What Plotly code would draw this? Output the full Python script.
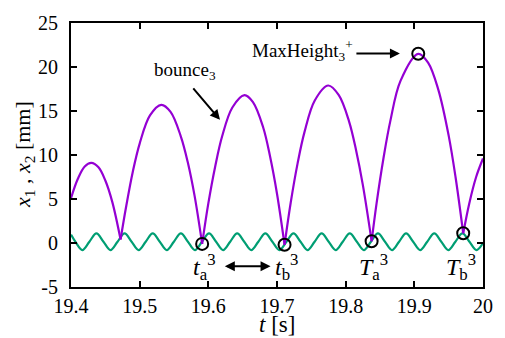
import plotly.graph_objects as go

# ---------------- data ----------------
# ball height x1 [mm], one list per flight arc (impact -> apex -> impact)
arc0_t = [19.400, 19.410, 19.420, 19.4295, 19.440, 19.450, 19.460, 19.4722]
arc0_v = [5.1, 7.3, 8.7, 9.1, 8.6, 7.1, 4.7, 0.4]
arc1_t = [19.4722, 19.480, 19.490, 19.500, 19.515, 19.5315, 19.545, 19.560, 19.570, 19.580, 19.591]
arc1_v = [0.4, 4.0, 8.1, 11.3, 14.5, 15.7, 14.9, 12.1, 9.2, 5.35, -0.1]
arc2_t = [19.591, 19.600, 19.610, 19.620, 19.635, 19.6526, 19.665, 19.680, 19.690, 19.700, 19.711]
arc2_v = [-0.1, 4.5, 8.7, 12.1, 15.4, 16.8, 16.0, 13.1, 9.8, 5.6, -0.2]
arc3_t = [19.711, 19.720, 19.730, 19.740, 19.755, 19.7746, 19.790, 19.805, 19.815, 19.825, 19.8378]
arc3_v = [-0.2, 4.6, 9.05, 12.6, 16.2, 17.9, 16.8, 13.8, 10.6, 6.6, 0.2]
arc4_t = [19.8378, 19.845, 19.855, 19.865, 19.880, 19.9057, 19.920, 19.935, 19.950, 19.960, 19.9712]
arc4_v = [0.2, 4.5, 9.6, 13.85, 18.45, 21.5, 20.5, 17.4, 12.2, 7.5, 1.1]
arc5_t = [19.9712, 19.980, 19.990, 20.000]
arc5_v = [1.1, 4.5, 7.5, 9.6]

# plate displacement x2 [mm]: crests, mid points and troughs
plate_t = [19.400, 19.4063, 19.4165, 19.4268, 19.437, 19.4473, 19.4575, 19.4678, 19.478,
           19.4883, 19.4985, 19.5088, 19.519, 19.5293, 19.5395, 19.5498, 19.560, 19.5703,
           19.5805, 19.5908, 19.601, 19.6113, 19.6215, 19.6318, 19.642, 19.6523, 19.6625,
           19.6728, 19.683, 19.6933, 19.7035, 19.7138, 19.724, 19.7343, 19.7445, 19.7548,
           19.765, 19.7753, 19.7855, 19.7958, 19.806, 19.8163, 19.8265, 19.8368, 19.847,
           19.8573, 19.8675, 19.8778, 19.888, 19.8983, 19.9085, 19.9188, 19.929, 19.9393,
           19.9495, 19.9598, 19.970, 19.9803, 19.9905, 20.000]
plate_v = [0.95, 0.15, -0.8, 0.15, 1.1, 0.15, -0.8, 0.15, 1.1,
           0.15, -0.8, 0.15, 1.1, 0.15, -0.8, 0.15, 1.1, 0.15,
           -0.8, 0.15, 1.1, 0.15, -0.8, 0.15, 1.1, 0.15, -0.8,
           0.15, 1.1, 0.15, -0.8, 0.15, 1.1, 0.15, -0.8, 0.15,
           1.1, 0.15, -0.8, 0.15, 1.1, 0.15, -0.8, 0.15, 1.1,
           0.15, -0.8, 0.15, 1.1, 0.15, -0.8, 0.15, 1.1, 0.15,
           -0.8, 0.15, 1.1, 0.15, -0.8, 0.0]

# marked events: t_a, t_b, T_a, T_b, MaxHeight
event_t = [19.591, 19.711, 19.8378, 19.9712, 19.9057]
event_v = [-0.1, -0.2, 0.2, 1.1, 21.5]

x_ticks = [19.4, 19.5, 19.6, 19.7, 19.8, 19.9, 20.0]
x_tick_labels = ["19.4", "19.5", "19.6", "19.7", "19.8", "19.9", "20"]
y_ticks = [-5, 0, 5, 10, 15, 20, 25]
y_tick_labels = ["-5", "0", "5", "10", "15", "20", "25"]

# ---------------- figure ----------------
PURPLE = "#9400D3"
GREEN = "#009E73"
FONT = "Liberation Serif, Times New Roman, DejaVu Serif, serif"

ball_t, ball_v = [], []
for ts, vs in [(arc0_t, arc0_v), (arc1_t, arc1_v), (arc2_t, arc2_v),
               (arc3_t, arc3_v), (arc4_t, arc4_v), (arc5_t, arc5_v)]:
    ball_t += ts + [None]
    ball_v += vs + [None]

fig = go.Figure()
fig.add_trace(go.Scatter(x=plate_t, y=plate_v, mode="lines",
                         line=dict(color=GREEN, width=2.2, shape="spline"),
                         hoverinfo="skip"))
fig.add_trace(go.Scatter(x=ball_t, y=ball_v, mode="lines", connectgaps=False,
                         line=dict(color=PURPLE, width=2.2, shape="spline"),
                         hoverinfo="skip"))
fig.add_trace(go.Scatter(x=event_t, y=event_v, mode="markers",
                         marker=dict(symbol="circle-open", size=12, color="black",
                                     line=dict(width=2, color="black")),
                         hoverinfo="skip"))

axis_common = dict(showgrid=False, zeroline=False, showline=True, linecolor="black",
                   linewidth=2, mirror="allticks", ticks="inside", ticklen=6,
                   tickwidth=2, tickcolor="black",
                   tickfont=dict(family=FONT, size=20, color="black"))

fig.update_xaxes(range=[19.4, 20.0], tickvals=x_ticks, ticktext=x_tick_labels,
                 **axis_common)
fig.update_yaxes(range=[-5, 25], tickvals=y_ticks, ticktext=y_tick_labels,
                 ticklabelstandoff=7, **axis_common)

title_font = dict(family=FONT, size=23, color="black")
lab_font = dict(family=FONT, size=24, color="black")
ann = [
    # axis titles
    dict(x=0.5, y=-0.142, xref="paper", yref="paper", xanchor="center", yanchor="middle",
         text="<i>t</i> [s]", showarrow=False, font=title_font),
    dict(x=-0.114, y=0.5, xref="paper", yref="paper", xanchor="center", yanchor="middle",
         textangle=-90, text="<i>x</i><sub>1</sub> , <i>x</i><sub>2</sub> [mm]",
         showarrow=False, font=dict(family=FONT, size=22, color="black")),
    # bounce_3 label + arrow
    dict(x=19.566, y=19.6, xref="x", yref="y", text="bounce<sub>3</sub>", showarrow=False,
         font=dict(family=FONT, size=19, color="black")),
    dict(x=19.617, y=14.0, xref="x", yref="y", text="", showarrow=True, arrowhead=2,
         arrowsize=1, arrowwidth=2, arrowcolor="black", ax=-28, ay=-33),
    # MaxHeight_3^+ label + arrow
    dict(x=19.8143, y=21.9, xref="x", yref="y", xanchor="right",
         text="MaxHeight<sub>3</sub><sup>+</sup>", showarrow=False,
         font=dict(family=FONT, size=19, color="black")),
    dict(x=19.879, y=21.54, xref="x", yref="y", text="", showarrow=True, arrowhead=2,
         arrowsize=1, arrowwidth=2, arrowcolor="black", ax=-45, ay=0),
    # event labels
    dict(x=19.594, y=-2.7, xref="x", yref="y", text="<i>t</i><sub>a</sub><sup>3</sup>",
         showarrow=False, font=lab_font),
    dict(x=19.714, y=-2.7, xref="x", yref="y", text="<i>t</i><sub>b</sub><sup>3</sup>",
         showarrow=False, font=lab_font),
    dict(x=19.840, y=-2.7, xref="x", yref="y", text="<i>T</i><sub>a</sub><sup>3</sup>",
         showarrow=False, font=lab_font),
    dict(x=19.968, y=-2.7, xref="x", yref="y", text="<i>T</i><sub>b</sub><sup>3</sup>",
         showarrow=False, font=lab_font),
    # double arrow between t_a and t_b
    dict(x=19.6906, y=-2.64, xref="x", yref="y", ax=19.6218, ay=-2.64,
         axref="x", ayref="y", text="", showarrow=True, arrowhead=2, startarrowhead=2,
         arrowside="end+start", arrowsize=1, arrowwidth=2, arrowcolor="black"),
]
fig.update_layout(annotations=ann)

fig.update_layout(width=505, height=338, autosize=False, showlegend=False,
                  margin=dict(l=71, r=13, t=14, b=51),
                  plot_bgcolor="white", paper_bgcolor="white",
                  font=dict(family=FONT, color="black"))

fig.write_html("out.html",
               config={"displayModeBar": False, "responsive": False, "staticPlot": True},
               post_script="document.body.style.margin='0';document.body.style.overflow='hidden';")
